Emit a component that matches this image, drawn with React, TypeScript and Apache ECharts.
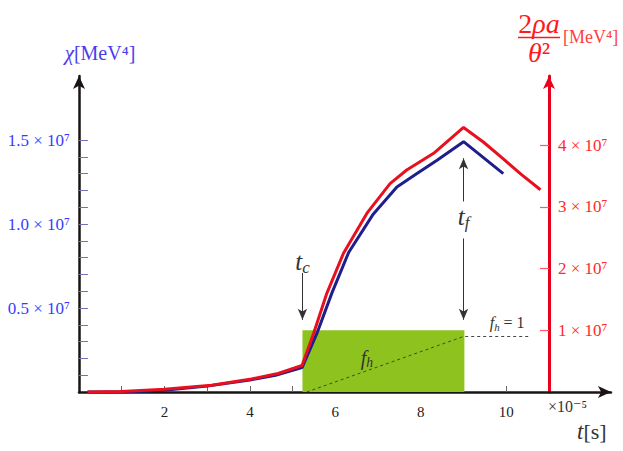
import React, { useEffect, useRef } from "react";
import * as echarts from "echarts";

// ---- data (time in units of 1e-5 s, values in units of 1e7 MeV^4) ----
const tBlue = [0.2, 1, 2, 3, 4, 4.6, 5.22, 5.57, 5.92, 6.31, 6.89, 7.44, 7.91, 8.38, 9.0, 9.93];
const chiBlue = [0, 0.0, 0.01, 0.035, 0.072, 0.1, 0.145, 0.35, 0.59, 0.83, 1.06, 1.22, 1.3, 1.38, 1.49, 1.3];
const tRed = [0.2, 1, 2, 3.1, 4.04, 4.66, 5.22, 5.49, 5.8, 6.19, 6.74, 7.28, 7.67, 8.3, 9.0, 9.47, 9.93, 10.35, 10.8];
const rhoRed = [0.0, 0.01, 0.045, 0.11, 0.21, 0.3, 0.43, 0.95, 1.6, 2.25, 2.9, 3.38, 3.6, 3.87, 4.29, 4.05, 3.78, 3.53, 3.28];
const fhT = [5.33, 9.0, 10.56];
const fhV = [0, 0.9, 0.9];
const heatStart = 5.23;
const heatEnd = 9.02;
const heatTop = 1.0;
const tC = 5.23;
const tF = 9.0;
const xTicks = [1, 2, 3, 4, 5, 6, 7, 8, 9, 10];
const xLabels = [2, 4, 6, 8, 10];
const leftTicks = [0.1, 0.2, 0.3, 0.4, 0.5, 0.6, 0.7, 0.8, 0.9, 1.0, 1.1, 1.2, 1.3, 1.4, 1.5];
const leftLabels = [0.5, 1.0, 1.5];
const rightTicks = [1, 2, 3, 4];

const FONT = "Liberation Serif, DejaVu Serif, serif";

export default function App() {
  const ref = useRef<HTMLDivElement>(null);
  useEffect(() => {
    if (!ref.current) return;
    const chart = echarts.init(ref.current, undefined, { renderer: "svg" });
    const W = 623, H = 451;
    const L = 79, B = 59, T = 76;
    const K = 470 / 11;
    const xMax0 = 12.45;
    const right0 = W - L - xMax0 * K;
    const right1 = W - L - 11 * K;
    const gh = H - B - T;
    const leftMax = gh / 168;
    const rightMax = gh / 61.67;
    const blueData = tBlue.map((t, i) => [t, chiBlue[i]]);
    const redData = tRed.map((t, i) => [t, rhoRed[i]]);
    const fhData = fhT.map((t, i) => [t, fhV[i]]);
    const sub = (size: number) => ({
      i: { fontStyle: "italic", fontSize: size, fontFamily: FONT, color: "#333" },
      s: { fontStyle: "italic", fontSize: size * 0.68, fontFamily: FONT, color: "#333", padding: [size * 0.45, 0, 0, 0] },
      n: { fontSize: size, fontFamily: FONT, color: "#333" },
    });
    chart.setOption({
      animation: false,
      backgroundColor: "#fff",
      textStyle: { fontFamily: FONT },
      grid: [
        { left: L, right: right0, top: T, bottom: B },
        { left: L, right: right1, top: T, bottom: B },
      ],
      xAxis: [
        {
          gridIndex: 0, type: "value", min: 0, max: xMax0,
          axisLine: { onZero: false, lineStyle: { color: "#1a1414", width: 2.5 }, symbol: ["none", "arrow"], symbolSize: [9, 13] },
          axisTick: { inside: true, length: 6, customValues: xTicks, lineStyle: { color: "#666", width: 1 } },
          axisLabel: { customValues: xLabels, margin: 12, fontSize: 15, color: "#222", fontFamily: FONT },
          splitLine: { show: false },
        },
        { gridIndex: 1, type: "value", min: 0, max: 11, show: false },
      ],
      yAxis: [
        {
          gridIndex: 0, type: "value", min: 0, max: leftMax,
          axisLine: { show: true, onZero: false, lineStyle: { color: "#1a1414", width: 2.5 }, symbol: ["none", "arrow"], symbolSize: [9, 13] },
          axisTick: { show: true, inside: true, length: 9, customValues: leftTicks, lineStyle: { color: "#7474b4", width: 1 } },
          axisLabel: {
            customValues: leftLabels, margin: 9, fontSize: 17, color: "#3b3bff", fontFamily: FONT,
            formatter: (v: number) => `${v.toFixed(1)} × 10⁷`,
          },
          splitLine: { show: false },
        },
        {
          gridIndex: 1, type: "value", min: 0, max: rightMax, position: "right",
          axisLine: { show: true, onZero: false, lineStyle: { color: "#e8001c", width: 3 }, symbol: ["none", "arrow"], symbolSize: [9, 13] },
          axisTick: { show: true, inside: true, length: 9, customValues: rightTicks, lineStyle: { color: "#ff5566", width: 1.2 } },
          axisLabel: {
            customValues: rightTicks, margin: 9, fontSize: 17, color: "#ff2a2a", fontFamily: FONT,
            formatter: (v: number) => `${v} × 10⁷`,
          },
          splitLine: { show: false },
        },
      ],
      series: [
        {
          type: "line", xAxisIndex: 1, yAxisIndex: 1, data: [], z: 1, silent: true,
          markArea: {
            silent: true,
            itemStyle: { color: "#8dc21f", opacity: 1 },
            label: { show: false },
            data: [[{ coord: [heatStart, 0] }, { coord: [heatEnd, heatTop] }]],
          },
        },
        {
          type: "line", xAxisIndex: 1, yAxisIndex: 1, data: fhData, z: 2, symbol: "none", silent: true,
          lineStyle: { color: "#444", width: 1, type: [3, 3] },
        },
        {
          type: "line", xAxisIndex: 0, yAxisIndex: 0, data: blueData, z: 3, symbol: "none",
          lineStyle: { color: "#1e1e8c", width: 3 },
        },
        {
          type: "line", xAxisIndex: 1, yAxisIndex: 1, data: redData, z: 4, symbol: "none",
          lineStyle: { color: "#e8101e", width: 3 },
        },
        {
          type: "line", xAxisIndex: 1, yAxisIndex: 1, data: [], z: 5, silent: true,
          markLine: {
            silent: true,
            symbol: ["none", "arrow"],
            symbolSize: [7, 11],
            label: { show: false },
            lineStyle: { color: "#333", width: 1, type: "solid" },
            data: [
              [{ coord: [tC, 1.93] }, { coord: [tC, 1.17] }],
              [{ coord: [tF, 3.09] }, { coord: [tF, 3.79] }],
              [{ coord: [tF, 2.49] }, { coord: [tF, 1.17] }],
            ],
          },
          markPoint: {
            silent: true,
            symbol: "circle",
            symbolSize: 1,
            itemStyle: { color: "rgba(0,0,0,0)" },
            data: [
              { coord: [tC, 2.11], label: { show: true, position: "inside", formatter: "{i|t}{s|c}", rich: sub(25) } },
              { coord: [tF, 2.84], label: { show: true, position: "inside", formatter: "{i|t}{s|f}", rich: sub(25) } },
              { coord: [6.74, 0.55], label: { show: true, position: "inside", formatter: "{i|f}{s|h}", rich: sub(20) } },
              { coord: [10.02, 1.12], label: { show: true, position: "inside", formatter: "{i|f}{s|h}{n| = 1}", rich: sub(16) } },
            ],
          },
        },
      ],
      graphic: [
        {
          type: "text", x: 100, y: 53,
          style: {
            text: "{i|χ}{n|[MeV⁴]}", align: "center", verticalAlign: "middle",
            rich: {
              i: { fontStyle: "italic", fontSize: 21, fontFamily: FONT, fill: "#4a3cf0" },
              n: { fontSize: 20, fontFamily: FONT, fill: "#4a3cf0" },
            },
          },
        },
        {
          type: "text", x: 539, y: 23,
          style: {
            text: "{n|2}{i|ρa}", align: "center", verticalAlign: "middle",
            rich: {
              i: { fontStyle: "italic", fontSize: 28, fontFamily: FONT, fill: "#ff1a1a" },
              n: { fontSize: 28, fontFamily: FONT, fill: "#ff1a1a" },
            },
          },
        },
        { type: "line", shape: { x1: 518, y1: 37.5, x2: 560, y2: 37.5 }, style: { stroke: "#ff1a1a", lineWidth: 1.5 } },
        {
          type: "text", x: 539, y: 52,
          style: {
            text: "{i|θ}{n|²}", align: "center", verticalAlign: "middle",
            rich: {
              i: { fontStyle: "italic", fontSize: 28, fontFamily: FONT, fill: "#ff1a1a" },
              n: { fontSize: 28, fontFamily: FONT, fill: "#ff1a1a" },
            },
          },
        },
        {
          type: "text", x: 563, y: 37,
          style: { text: "[MeV⁴]", align: "left", verticalAlign: "middle", fontSize: 18, fontFamily: FONT, fill: "#ff4040" },
        },
        {
          type: "text", x: 548, y: 406,
          style: { text: "×10⁻⁵", align: "left", verticalAlign: "middle", fontSize: 16, fontFamily: FONT, fill: "#333" },
        },
        {
          type: "text", x: 577, y: 431,
          style: {
            text: "{i|t}{n|[s]}", align: "left", verticalAlign: "middle",
            rich: {
              i: { fontStyle: "italic", fontSize: 23, fontFamily: FONT, fill: "#333" },
              n: { fontSize: 22, fontFamily: FONT, fill: "#333" },
            },
          },
        },
      ],
    });
    return () => chart.dispose();
  }, []);
  return <div ref={ref} style={{ position: "fixed", left: 0, top: 0, width: 623, height: 451 }} />;
}
